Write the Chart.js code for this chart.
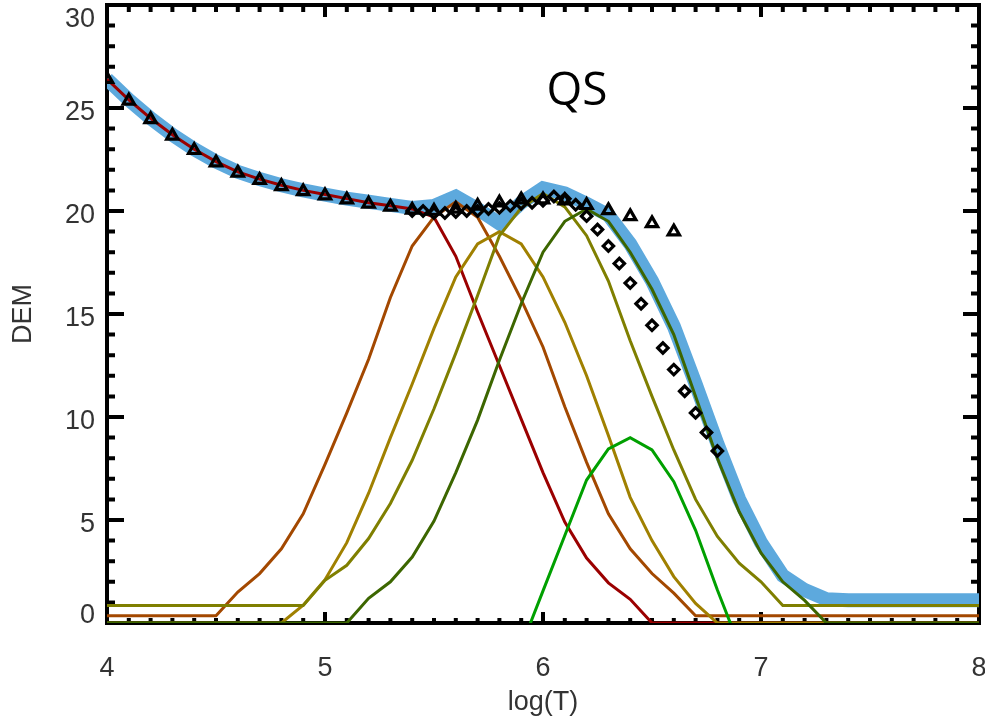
<!DOCTYPE html>
<html lang="en">
<head>
<meta charset="UTF-8">
<title>DEM QS</title>
<script src="https://cdn.jsdelivr.net/npm/chart.js"></script>
<style>
  html, body { margin: 0; padding: 0; background: #fff; }
  canvas { display: block; }
</style>
</head>
<body>
<canvas id="demChart" width="985" height="721"></canvas>
<script>
// temperature grid (log T)
const logT = [4.0, 4.1, 4.2, 4.3, 4.4, 4.5, 4.6, 4.7, 4.8, 4.9,
  5.0, 5.1, 5.2, 5.3, 5.4, 5.5, 5.6, 5.7, 5.8, 5.9,
  6.0, 6.1, 6.2, 6.3, 6.4, 6.5, 6.6, 6.7, 6.8, 6.9,
  7.0, 7.1, 7.2, 7.3, 7.4, 7.5, 7.6, 7.7, 7.8, 7.9, 8.0];

// total DEM (thick blue band)
const demTotal = [26.4, 25.4, 24.5, 23.7, 23.0, 22.4, 21.9, 21.55, 21.25, 21.0,
  20.8, 20.6, 20.45, 20.3, 20.15, 20.25, 20.7, 20.1, 19.4, 20.4,
  21.1, 20.85, 20.35, 19.8, 18.4, 16.6, 14.4, 11.6, 8.7, 6.0,
  3.9, 2.3, 1.6, 1.15, 1.1, 1.1, 1.1, 1.1, 1.1, 1.1, 1.1];

// single components
const demRed = [26.4, 25.4, 24.5, 23.7, 23.0, 22.4, 21.9, 21.55, 21.25, 21.0,
  20.8, 20.6, 20.4, 20.25, 20.1, 19.7, 17.8, 15.1, 12.5, 9.9,
  7.3, 4.9, 3.15, 1.95, 1.15, 0, 0, 0, 0, 0,
  0, 0, 0, 0, 0, 0, 0, 0, 0, 0, 0];
const demOrange = [0.35, 0.35, 0.35, 0.35, 0.35, 0.35, 1.5, 2.4, 3.6, 5.3,
  7.7, 10.2, 12.8, 15.8, 18.3, 19.7, 20.45, 19.7, 17.8, 15.7,
  13.4, 10.5, 7.8, 5.3, 3.6, 2.4, 1.45, 0.35, 0.35, 0.35,
  0.35, 0.35, 0.35, 0.35, 0.35, 0.35, 0.35, 0.35, 0.35, 0.35, 0.35];
const demGold = [0, 0, 0, 0, 0, 0, 0, 0, 0, 0.86,
  2.1, 3.9, 6.3, 9.0, 11.6, 14.3, 16.8, 18.4, 19.0, 18.4,
  16.8, 14.6, 12.0, 9.1, 6.1, 4.0, 2.25, 0.95, 0, 0,
  0, 0, 0, 0, 0, 0, 0, 0, 0, 0, 0];
const demOlive = [0.85, 0.85, 0.85, 0.85, 0.85, 0.85, 0.85, 0.85, 0.85, 0.85,
  2.07, 2.8, 4.1, 5.8, 7.9, 10.4, 13.1, 15.9, 18.8, 20.15,
  20.85, 20.2, 18.8, 16.6, 13.7, 11.0, 8.4, 6.0, 4.2, 2.9,
  2.0, 0.85, 0.85, 0.85, 0.85, 0.85, 0.85, 0.85, 0.85, 0.85, 0.85];
const demDkGreen = [0, 0, 0, 0, 0, 0, 0, 0, 0, 0,
  0, 0, 1.2, 2.0, 3.2, 4.95, 7.3, 9.85, 12.75, 15.5,
  18.0, 19.5, 20.1, 19.5, 18.0, 16.2, 14.0, 11.0, 8.0, 5.4,
  3.4, 2.0, 1.1, 0, 0, 0, 0, 0, 0, 0, 0];
const demGreen = [null, null, null, null, null, null, null, null, null, null,
  null, null, null, null, null, null, null, null, null, -1.15,
  1.56, 4.25, 6.94, 8.45, 9.0, 8.4, 6.86, 4.5, 1.6, -1.1,
  null, null, null, null, null, null, null, null, null, null, null];

// observed points
const triT = [4.0, 4.1, 4.2, 4.3, 4.4, 4.5, 4.6, 4.7, 4.8, 4.9,
  5.0, 5.1, 5.2, 5.3, 5.4, 5.5, 5.6, 5.7, 5.8, 5.9,
  6.0, 6.1, 6.2, 6.3, 6.4, 6.5, 6.6];
const triDem = [26.4, 25.35, 24.45, 23.65, 22.95, 22.35, 21.85, 21.5, 21.2, 20.95,
  20.75, 20.55, 20.35, 20.2, 20.05, 20.0, 20.1, 20.25, 20.4, 20.55,
  20.55, 20.5, 20.28, 20.03, 19.74, 19.4, 19.0];
const diaT = [5.40, 5.45, 5.50, 5.55, 5.60, 5.65, 5.70, 5.75, 5.80, 5.85,
  5.90, 5.95, 6.00, 6.05, 6.10, 6.15, 6.20, 6.25, 6.30, 6.35,
  6.40, 6.45, 6.50, 6.55, 6.60, 6.65, 6.70, 6.75, 6.80];
const diaDem = [20.0, 20.0, 19.9, 19.9, 19.95, 20.0, 20.0, 20.1, 20.15, 20.25,
  20.35, 20.4, 20.5, 20.7, 20.6, 20.3, 19.75, 19.1, 18.3, 17.45,
  16.5, 15.5, 14.45, 13.35, 12.3, 11.25, 10.2, 9.25, 8.35];

const yTickValues = [0, 5, 10, 15, 20, 25, 30];
const panelLabel = 'QS';

const FONT = '"Liberation Sans", Arial, sans-serif';

function pts(xs, ys) {
  return xs.map((x, i) => ({ x: x, y: ys[i] }));
}

function curve(ys, color, width, order) {
  return {
    data: pts(logT, ys),
    borderColor: color,
    borderWidth: width,
    pointRadius: 0,
    pointHoverRadius: 0,
    tension: 0,
    fill: false,
    order: order
  };
}

// box with inward ticks, y labels and the panel tag
const frame = {
  id: 'frame',
  beforeDatasetsDraw(chart) {
    const { ctx, chartArea: a, scales: { x, y } } = chart;
    ctx.save();
    ctx.strokeStyle = '#000';
    ctx.lineWidth = 4;
    ctx.strokeRect(a.left, a.top, a.right - a.left, a.bottom - a.top);
    ctx.beginPath();
    for (let i = 0; i <= 40; i++) {
      const px = x.getPixelForValue(4 + i / 10);
      const major = i % 10 === 0;
      ctx.moveTo(px, a.top);
      ctx.lineTo(px, a.top + (major ? 12 : 7));
      ctx.moveTo(px, a.bottom);
      ctx.lineTo(px, a.bottom - (major ? 11 : 5));
    }
    for (let v = 0; v <= 30; v++) {
      const py = y.getPixelForValue(v);
      const major = v % 5 === 0;
      ctx.moveTo(a.left, py);
      ctx.lineTo(a.left + (major ? 17 : 8), py);
      ctx.moveTo(a.right, py);
      ctx.lineTo(a.right - (major ? 16 : 8), py);
    }
    ctx.stroke();
    ctx.restore();
  },
  afterDraw(chart) {
    const { ctx, scales: { x, y } } = chart;
    ctx.save();
    ctx.fillStyle = '#333';
    ctx.font = '27px ' + FONT;
    ctx.textAlign = 'right';
    ctx.textBaseline = 'middle';
    yTickValues.forEach(v => {
      let dy = 5;
      if (v === 30) dy = 15;
      if (v === 0) dy = -7;
      ctx.fillText(String(v), 95, y.getPixelForValue(v) + dy);
    });
    ctx.fillStyle = '#000';
    ctx.font = '46px "Open Sans", "Noto Sans", sans-serif';
    ctx.textAlign = 'center';
    ctx.textBaseline = 'alphabetic';
    ctx.fillText(panelLabel, x.getPixelForValue(6.156), y.getPixelForValue(25.15));
    ctx.restore();
  }
};

new Chart(document.getElementById('demChart'), {
  type: 'line',
  data: {
    datasets: [
      {
        data: pts(triT, triDem),
        showLine: false,
        pointStyle: 'triangle',
        pointRadius: 6.5,
        pointBorderWidth: 3.2,
        pointBorderColor: '#000',
        pointBackgroundColor: 'rgba(0,0,0,0)',
        clip: 0,
        order: 0
      },
      {
        data: pts(diaT, diaDem),
        showLine: false,
        pointStyle: 'rectRot',
        pointRadius: 5.2,
        pointBorderWidth: 3.2,
        pointBorderColor: '#000',
        pointBackgroundColor: 'rgba(0,0,0,0)',
        clip: 0,
        order: 1
      },
      curve(demGreen, '#00A000', 3, 2),
      curve(demDkGreen, '#3C6600', 3, 3),
      curve(demOlive, '#7F7F00', 3, 4),
      curve(demGold, '#A08000', 3, 5),
      curve(demOrange, '#A34800', 3, 6),
      curve(demRed, '#9B0000', 3, 7),
      curve(demTotal, '#5DA9DD', 14, 8)
    ]
  },
  options: {
    responsive: false,
    animation: false,
    devicePixelRatio: 1,
    events: [],
    layout: { padding: { left: 0, right: 6, top: 5, bottom: 0 }, autoPadding: false },
    plugins: { legend: { display: false }, tooltip: { enabled: false } },
    scales: {
      x: {
        type: 'linear',
        min: 4,
        max: 8,
        grid: { display: false },
        border: { display: false },
        ticks: { stepSize: 1, padding: 21, color: '#333', maxRotation: 0, autoSkip: false,
                 font: { family: FONT, size: 27 } },
        title: { display: true, text: 'log(T)', color: '#333',
                 font: { family: FONT, size: 27 }, padding: { top: 0, bottom: 2 } },
        afterFit(s) {
          s.height = 98;
          // let the end labels run past the plot edges
          s.paddingLeft = 0;
          s.paddingRight = 0;
        }
      },
      y: {
        min: 0,
        max: 30,
        grid: { display: false },
        border: { display: false },
        ticks: { display: false },
        title: { display: true, text: 'DEM', color: '#333',
                 font: { family: FONT, size: 27 }, padding: { top: 7, bottom: 0 } },
        afterFit(s) { s.width = 107; }
      }
    }
  },
  plugins: [frame]
});
</script>
</body>
</html>
